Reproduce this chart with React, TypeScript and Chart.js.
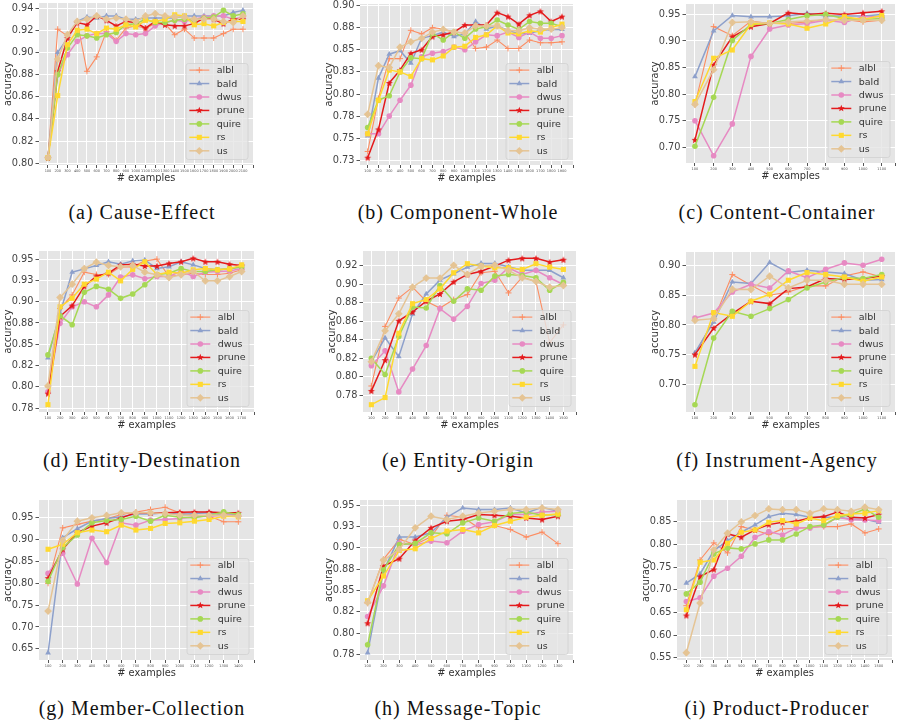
import React, { useEffect, useRef } from "react";
import { Chart, registerables } from "chart.js";

Chart.register(...registerables);

const METHODS = ["albl", "bald", "dwus", "prune", "quire", "rs", "us"];
const METHOD_COLORS = ["#fc8d62", "#8da0cb", "#e78ac3", "#e41a1c", "#a6d854", "#ffd92f", "#e5c494"];
const MARKER_STYLES = ["cross", "triangle", "circle", "star", "circle", "rect", "rectRot"];
const MARKER_RADII = [3, 3.3, 2.8, 3.6, 2.8, 3.6, 3.9];
const LINE_WIDTHS = [1.1, 1.5, 1.5, 1.5, 1.5, 1.5, 1.5];

const EXAMPLES = [100, 200, 300, 400, 500, 600, 700, 800, 900, 1000, 1100, 1200, 1300, 1400, 1500, 1600, 1700, 1800, 1900, 2000, 2100];

// (a) Cause-Effect
const ceAlbl = [0.805, 0.921, 0.915, 0.928, 0.883, 0.896, 0.919, 0.911, 0.922, 0.924, 0.922, 0.926, 0.926, 0.916, 0.921, 0.913, 0.913, 0.913, 0.917, 0.921, 0.921];
const ceBald = [0.805, 0.900, 0.913, 0.928, 0.932, 0.931, 0.933, 0.933, 0.930, 0.930, 0.931, 0.931, 0.931, 0.931, 0.933, 0.933, 0.933, 0.933, 0.933, 0.936, 0.938];
const ceDwus = [0.805, 0.880, 0.898, 0.910, 0.915, 0.917, 0.917, 0.910, 0.917, 0.916, 0.917, 0.924, 0.927, 0.929, 0.928, 0.930, 0.932, 0.933, 0.933, 0.930, 0.932];
const cePrune = [0.805, 0.883, 0.913, 0.927, 0.925, 0.933, 0.929, 0.924, 0.928, 0.927, 0.922, 0.928, 0.925, 0.924, 0.924, 0.926, 0.931, 0.930, 0.926, 0.930, 0.930];
const ceQuire = [0.805, 0.880, 0.904, 0.916, 0.915, 0.913, 0.916, 0.918, 0.925, 0.926, 0.930, 0.927, 0.927, 0.929, 0.930, 0.929, 0.931, 0.932, 0.938, 0.933, 0.935];
const ceRs = [0.805, 0.861, 0.907, 0.920, 0.921, 0.917, 0.922, 0.921, 0.925, 0.923, 0.929, 0.928, 0.930, 0.934, 0.933, 0.925, 0.926, 0.924, 0.927, 0.928, 0.928];
const ceUs = [0.805, 0.894, 0.916, 0.928, 0.930, 0.933, 0.930, 0.931, 0.930, 0.928, 0.933, 0.935, 0.933, 0.932, 0.932, 0.930, 0.930, 0.930, 0.928, 0.927, 0.933];
const ceYTicks = [0.80, 0.82, 0.84, 0.86, 0.88, 0.90, 0.92, 0.94];
const ceYLabels = ["0.80", "0.82", "0.84", "0.86", "0.88", "0.90", "0.92", "0.94"];

// (b) Component-Whole
const cwAlbl = [0.735, 0.795, 0.840, 0.840, 0.872, 0.868, 0.875, 0.8735, 0.870, 0.869, 0.8515, 0.853, 0.861, 0.8515, 0.8515, 0.861, 0.858, 0.858, 0.859];
const cwBald = [0.7526, 0.818, 0.845, 0.849, 0.835, 0.863, 0.866, 0.870, 0.865, 0.868, 0.882, 0.8735, 0.877, 0.872, 0.868, 0.8685, 0.872, 0.873, 0.873];
const cwDwus = [0.755, 0.755, 0.775, 0.793, 0.810, 0.842, 0.846, 0.848, 0.853, 0.850, 0.859, 0.867, 0.866, 0.870, 0.864, 0.870, 0.863, 0.863, 0.866];
const cwPrune = [0.728, 0.760, 0.8125, 0.827, 0.846, 0.850, 0.865, 0.867, 0.870, 0.878, 0.878, 0.878, 0.892, 0.8875, 0.879, 0.889, 0.8935, 0.882, 0.8875];
const cwQuire = [0.762, 0.793, 0.798, 0.825, 0.841, 0.840, 0.8685, 0.861, 0.870, 0.863, 0.8735, 0.876, 0.8837, 0.878, 0.873, 0.882, 0.880, 0.880, 0.876];
const cwRs = [0.755, 0.793, 0.827, 0.825, 0.820, 0.840, 0.8386, 0.843, 0.853, 0.854, 0.864, 0.867, 0.877, 0.869, 0.868, 0.8716, 0.870, 0.875, 0.879];
const cwUs = [0.777, 0.832, 0.830, 0.853, 0.859, 0.863, 0.870, 0.873, 0.870, 0.869, 0.877, 0.877, 0.877, 0.8716, 0.8716, 0.875, 0.8735, 0.8735, 0.875];
const cwYTicks = [0.725, 0.75, 0.775, 0.80, 0.825, 0.85, 0.875, 0.90];
const cwYLabels = ["0.73", "0.75", "0.78", "0.80", "0.83", "0.85", "0.88", "0.90"];

// (c) Content-Container
const ccAlbl = [0.780, 0.927, 0.910, 0.9375, 0.933, 0.933, 0.936, 0.9405, 0.9405, 0.936, 0.939];
const ccBald = [0.833, 0.919, 0.948, 0.9456, 0.9456, 0.9475, 0.952, 0.947, 0.947, 0.947, 0.950];
const ccDwus = [0.750, 0.684, 0.744, 0.871, 0.9225, 0.930, 0.933, 0.939, 0.935, 0.9456, 0.9456];
const ccPrune = [0.714, 0.855, 0.908, 0.927, 0.933, 0.953, 0.950, 0.952, 0.950, 0.953, 0.956];
const ccQuire = [0.702, 0.794, 0.901, 0.931, 0.933, 0.9405, 0.9475, 0.950, 0.9425, 0.9405, 0.9425];
const ccRs = [0.786, 0.8675, 0.883, 0.932, 0.934, 0.932, 0.924, 0.932, 0.9456, 0.9405, 0.948];
const ccUs = [0.781, 0.846, 0.935, 0.936, 0.933, 0.936, 0.9375, 0.9405, 0.939, 0.939, 0.939];
const ccYTicks = [0.70, 0.75, 0.80, 0.85, 0.90, 0.95];
const ccYLabels = ["0.70", "0.75", "0.80", "0.85", "0.90", "0.95"];

// (d) Entity-Destination
const edAlbl = [0.800, 0.892, 0.908, 0.9347, 0.932, 0.932, 0.941, 0.941, 0.948, 0.950, 0.9296, 0.9316, 0.9335, 0.932, 0.932, 0.9335, 0.9375];
const edBald = [0.834, 0.8865, 0.9347, 0.9386, 0.9426, 0.947, 0.944, 0.948, 0.949, 0.939, 0.941, 0.947, 0.9433, 0.939, 0.9375, 0.9386, 0.941];
const edDwus = [0.794, 0.8747, 0.894, 0.900, 0.894, 0.908, 0.929, 0.9316, 0.927, 0.9296, 0.9296, 0.936, 0.9296, 0.9347, 0.9355, 0.936, 0.939];
const edPrune = [0.792, 0.8826, 0.8955, 0.918, 0.930, 0.9335, 0.9433, 0.944, 0.942, 0.942, 0.945, 0.947, 0.951, 0.947, 0.947, 0.944, 0.9426];
const edQuire = [0.8375, 0.8834, 0.873, 0.911, 0.918, 0.9147, 0.904, 0.909, 0.920, 0.932, 0.9335, 0.939, 0.9355, 0.9355, 0.9375, 0.9386, 0.941];
const edRs = [0.779, 0.894, 0.904, 0.9206, 0.9265, 0.9347, 0.9245, 0.938, 0.947, 0.932, 0.9347, 0.9335, 0.9375, 0.939, 0.9375, 0.9386, 0.9433];
const edUs = [0.801, 0.905, 0.9206, 0.939, 0.9465, 0.9426, 0.941, 0.9426, 0.9347, 0.9316, 0.9284, 0.9316, 0.9355, 0.9245, 0.9245, 0.9296, 0.9355];
const edYTicks = [0.775, 0.80, 0.825, 0.85, 0.875, 0.90, 0.925, 0.95];
const edYLabels = ["0.78", "0.80", "0.82", "0.85", "0.88", "0.90", "0.93", "0.95"];

// (e) Entity-Origin
const eoAlbl = [0.790, 0.8544, 0.885, 0.8968, 0.8816, 0.8743, 0.8834, 0.8888, 0.9124, 0.914, 0.8906, 0.9077, 0.903, 0.837, 0.856];
const eoBald = [0.8163, 0.842, 0.8217, 0.8678, 0.8895, 0.9044, 0.9113, 0.9185, 0.9225, 0.9225, 0.9189, 0.915, 0.915, 0.915, 0.907];
const eoDwus = [0.812, 0.828, 0.7836, 0.8083, 0.8337, 0.8736, 0.8623, 0.8761, 0.9008, 0.9044, 0.9178, 0.9106, 0.915, 0.907, 0.8997];
const eoPrune = [0.7847, 0.818, 0.8605, 0.870, 0.8816, 0.8895, 0.9026, 0.9106, 0.914, 0.9196, 0.926, 0.928, 0.928, 0.924, 0.9265];
const eoQuire = [0.820, 0.8025, 0.8435, 0.8754, 0.8743, 0.8986, 0.8816, 0.895, 0.8935, 0.9088, 0.9106, 0.9095, 0.907, 0.8935, 0.902];
const eoRs = [0.7698, 0.7775, 0.847, 0.879, 0.8834, 0.895, 0.9124, 0.9222, 0.9196, 0.9178, 0.9178, 0.916, 0.9222, 0.9185, 0.916];
const eoUs = [0.8163, 0.8496, 0.868, 0.8968, 0.9066, 0.9066, 0.9204, 0.9106, 0.9196, 0.9207, 0.915, 0.907, 0.903, 0.8968, 0.8986];
const eoYTicks = [0.78, 0.80, 0.82, 0.84, 0.86, 0.88, 0.90, 0.92];
const eoYLabels = ["0.78", "0.80", "0.82", "0.84", "0.86", "0.88", "0.90", "0.92"];

// (f) Instrument-Agency
const iaAlbl = [0.752, 0.808, 0.8844, 0.8665, 0.8497, 0.8553, 0.8654, 0.8654, 0.8821, 0.8888, 0.8804];
const iaBald = [0.7536, 0.805, 0.872, 0.8693, 0.9045, 0.8877, 0.8916, 0.8888, 0.886, 0.8749, 0.876];
const iaDwus = [0.8117, 0.820, 0.8553, 0.8682, 0.862, 0.8905, 0.8793, 0.8933, 0.9039, 0.900, 0.910];
const iaPrune = [0.7503, 0.795, 0.819, 0.8397, 0.8358, 0.8609, 0.8637, 0.8777, 0.876, 0.8777, 0.8821];
const iaQuire = [0.6665, 0.7782, 0.8229, 0.8145, 0.8274, 0.8425, 0.862, 0.872, 0.8793, 0.8777, 0.8844];
const iaRs = [0.7307, 0.8207, 0.8145, 0.8397, 0.8514, 0.8749, 0.8877, 0.8844, 0.8804, 0.8732, 0.8804];
const iaUs = [0.8078, 0.8106, 0.8598, 0.8592, 0.8816, 0.862, 0.8749, 0.8749, 0.8682, 0.8682, 0.8682];
const iaYTicks = [0.70, 0.75, 0.80, 0.85, 0.90];
const iaYLabels = ["0.70", "0.75", "0.80", "0.85", "0.90"];

// (g) Member-Collection
const mcAlbl = [0.800, 0.927, 0.935, 0.9424, 0.9477, 0.9576, 0.963, 0.969, 0.9742, 0.9614, 0.956, 0.9538, 0.9409, 0.9409];
const mcBald = [0.641, 0.9045, 0.925, 0.9424, 0.9485, 0.9523, 0.959, 0.959, 0.9614, 0.9576, 0.960, 0.9614, 0.956, 0.9576];
const mcDwus = [0.8227, 0.869, 0.7985, 0.903, 0.8477, 0.9386, 0.9333, 0.9447, 0.9462, 0.9485, 0.9523, 0.9538, 0.956, 0.956];
const mcPrune = [0.812, 0.878, 0.9159, 0.931, 0.9386, 0.950, 0.9614, 0.9614, 0.9614, 0.963, 0.9636, 0.9636, 0.9614, 0.9614];
const mcQuire = [0.8045, 0.8818, 0.9106, 0.9386, 0.944, 0.9462, 0.9538, 0.9424, 0.956, 0.9515, 0.950, 0.956, 0.9636, 0.9576];
const mcRs = [0.878, 0.8894, 0.9159, 0.922, 0.9182, 0.9333, 0.922, 0.9258, 0.9371, 0.9386, 0.9424, 0.9462, 0.9538, 0.9523];
const mcUs = [0.7364, 0.8985, 0.9424, 0.950, 0.9553, 0.9614, 0.9614, 0.9614, 0.960, 0.956, 0.956, 0.956, 0.956, 0.9538];
const mcYTicks = [0.65, 0.70, 0.75, 0.80, 0.85, 0.90, 0.95];
const mcYLabels = ["0.65", "0.70", "0.75", "0.80", "0.85", "0.90", "0.95"];

// (h) Message-Topic
const mtAlbl = [0.835, 0.8866, 0.910, 0.904, 0.913, 0.9383, 0.936, 0.9236, 0.9263, 0.9216, 0.9127, 0.9185, 0.905];
const mtBald = [0.777, 0.873, 0.9127, 0.9127, 0.9177, 0.936, 0.9469, 0.945, 0.945, 0.9469, 0.9411, 0.9477, 0.943];
const mtDwus = [0.8194, 0.8555, 0.9053, 0.9033, 0.908, 0.906, 0.9197, 0.9274, 0.9306, 0.9391, 0.9391, 0.9422, 0.943];
const mtPrune = [0.8116, 0.8788, 0.8874, 0.9088, 0.9236, 0.9313, 0.9333, 0.9391, 0.9383, 0.9372, 0.9352, 0.9333, 0.9372];
const mtQuire = [0.7863, 0.8742, 0.904, 0.9053, 0.9177, 0.9166, 0.9294, 0.9352, 0.9313, 0.9403, 0.9422, 0.9383, 0.9391];
const mtRs = [0.838, 0.867, 0.897, 0.899, 0.911, 0.9197, 0.9216, 0.9177, 0.9263, 0.9313, 0.936, 0.9383, 0.9399];
const mtUs = [0.836, 0.8855, 0.8983, 0.9236, 0.9372, 0.9333, 0.9372, 0.9411, 0.943, 0.945, 0.945, 0.9469, 0.945];
const mtYTicks = [0.775, 0.80, 0.825, 0.85, 0.875, 0.90, 0.925, 0.95];
const mtYLabels = ["0.78", "0.80", "0.82", "0.85", "0.88", "0.90", "0.93", "0.95"];

// (i) Product-Producer
const ppAlbl = [0.665, 0.766, 0.8037, 0.7816, 0.8397, 0.8324, 0.822, 0.8346, 0.836, 0.8382, 0.8397, 0.8397, 0.8456, 0.8257, 0.8346];
const ppBald = [0.7148, 0.7353, 0.7868, 0.8088, 0.8272, 0.8434, 0.8618, 0.8691, 0.8662, 0.8603, 0.8603, 0.8603, 0.8566, 0.8551, 0.8493];
const ppDwus = [0.6743, 0.6824, 0.7302, 0.7478, 0.7743, 0.8162, 0.8287, 0.8213, 0.8368, 0.8368, 0.8419, 0.8603, 0.8551, 0.8544, 0.8529];
const ppPrune = [0.6434, 0.7294, 0.745, 0.8235, 0.8162, 0.8324, 0.8441, 0.8493, 0.8515, 0.8588, 0.8618, 0.872, 0.8603, 0.8588, 0.8662];
const ppQuire = [0.691, 0.717, 0.7794, 0.7927, 0.7905, 0.8015, 0.8103, 0.8103, 0.8235, 0.8397, 0.8434, 0.8603, 0.8662, 0.8787, 0.8603];
const ppRs = [0.656, 0.761, 0.766, 0.803, 0.8272, 0.8324, 0.8493, 0.8529, 0.8456, 0.8588, 0.8529, 0.864, 0.8676, 0.8691, 0.875];
const ppUs = [0.5611, 0.6707, 0.7883, 0.825, 0.850, 0.864, 0.8787, 0.8772, 0.8772, 0.8691, 0.8787, 0.8772, 0.8735, 0.8824, 0.8772];
const ppYTicks = [0.55, 0.60, 0.65, 0.70, 0.75, 0.80, 0.85];
const ppYLabels = ["0.55", "0.60", "0.65", "0.70", "0.75", "0.80", "0.85"];

type PanelDef = {
  caption: string;
  series: number[][];
  yTicks: number[];
  yLabels: string[];
  xMin: number;
  xMax: number;
  rect: [number, number, number, number];
  cap: [number, number];
};

const PANELS: PanelDef[] = [
  { caption: "(a) Cause-Effect", series: [ceAlbl, ceBald, ceDwus, cePrune, ceQuire, ceRs, ceUs], yTicks: ceYTicks, yLabels: ceYLabels, xMin: 8, xMax: 2203, rect: [39, 3, 214, 162], cap: [142, 219] },
  { caption: "(b) Component-Whole", series: [cwAlbl, cwBald, cwDwus, cwPrune, cwQuire, cwRs, cwUs], yTicks: cwYTicks, yLabels: cwYLabels, xMin: 29, xMax: 2002, rect: [360, 4, 213, 161], cap: [458, 219] },
  { caption: "(c) Content-Container", series: [ccAlbl, ccBald, ccDwus, ccPrune, ccQuire, ccRs, ccUs], yTicks: ccYTicks, yLabels: ccYLabels, xMin: 52, xMax: 1171, rect: [686, 4, 209, 159], cap: [777, 219] },
  { caption: "(d) Entity-Destination", series: [edAlbl, edBald, edDwus, edPrune, edQuire, edRs, edUs], yTicks: edYTicks, yLabels: edYLabels, xMin: 26, xMax: 1802, rect: [39, 251, 215, 161], cap: [142, 467] },
  { caption: "(e) Entity-Origin", series: [eoAlbl, eoBald, eoDwus, eoPrune, eoQuire, eoRs, eoUs], yTicks: eoYTicks, yLabels: eoYLabels, xMin: 39, xMax: 1592, rect: [363, 251, 213, 161], cap: [458, 467] },
  { caption: "(f) Instrument-Agency", series: [iaAlbl, iaBald, iaDwus, iaPrune, iaQuire, iaRs, iaUs], yTicks: iaYTicks, yLabels: iaYLabels, xMin: 52, xMax: 1171, rect: [686, 252, 209, 160], cap: [777, 467] },
  { caption: "(g) Member-Collection", series: [mcAlbl, mcBald, mcDwus, mcPrune, mcQuire, mcRs, mcUs], yTicks: mcYTicks, yLabels: mcYLabels, xMin: 38, xMax: 1507, rect: [39, 500, 215, 160], cap: [142, 715] },
  { caption: "(h) Message-Topic", series: [mtAlbl, mtBald, mtDwus, mtPrune, mtQuire, mtRs, mtUs], yTicks: mtYTicks, yLabels: mtYLabels, xMin: 52, xMax: 1395, rect: [360, 500, 213, 160], cap: [458, 715] },
  { caption: "(i) Product-Producer", series: [ppAlbl, ppBald, ppDwus, ppPrune, ppQuire, ppRs, ppUs], yTicks: ppYTicks, yLabels: ppYLabels, xMin: 32, xMax: 1597, rect: [677, 500, 215, 160], cap: [777, 715] },
];

const L = 38;
const T = 10;
const R = 6;
const B = 22;
const SANS = "'DejaVu Sans', sans-serif";

function starPath(ctx: CanvasRenderingContext2D, x: number, y: number, r: number) {
  ctx.beginPath();
  for (let k = 0; k < 10; k++) {
    const rr = k % 2 === 0 ? r : r * 0.45;
    const a = -Math.PI / 2 + (k * Math.PI) / 5;
    const px = x + rr * Math.cos(a);
    const py = y + rr * Math.sin(a);
    if (k === 0) ctx.moveTo(px, py);
    else ctx.lineTo(px, py);
  }
  ctx.closePath();
}

function drawMarker(ctx: CanvasRenderingContext2D, style: string, x: number, y: number, r: number, color: string) {
  ctx.save();
  ctx.fillStyle = color;
  ctx.strokeStyle = color;
  ctx.lineWidth = 1;
  ctx.beginPath();
  if (style === "cross") {
    ctx.moveTo(x - r, y);
    ctx.lineTo(x + r, y);
    ctx.moveTo(x, y - r);
    ctx.lineTo(x, y + r);
    ctx.stroke();
  } else if (style === "triangle") {
    ctx.moveTo(x, y - r);
    ctx.lineTo(x + r * 0.866, y + r * 0.5);
    ctx.lineTo(x - r * 0.866, y + r * 0.5);
    ctx.closePath();
    ctx.fill();
  } else if (style === "circle") {
    ctx.arc(x, y, r, 0, Math.PI * 2);
    ctx.fill();
  } else if (style === "rect") {
    const s = r * Math.SQRT1_2;
    ctx.rect(x - s, y - s, 2 * s, 2 * s);
    ctx.fill();
  } else if (style === "rectRot") {
    ctx.moveTo(x, y - r);
    ctx.lineTo(x + r, y);
    ctx.lineTo(x, y + r);
    ctx.lineTo(x - r, y);
    ctx.closePath();
    ctx.fill();
  } else if (style === "star") {
    starPath(ctx, x, y, r);
    ctx.fill();
  }
  ctx.restore();
}

let starCanvas: HTMLCanvasElement | null = null;
function getStarCanvas(color: string, r: number) {
  if (starCanvas) return starCanvas;
  const size = Math.ceil(2 * r + 2);
  const c = document.createElement("canvas");
  c.width = size;
  c.height = size;
  const ctx = c.getContext("2d")!;
  ctx.fillStyle = color;
  starPath(ctx, size / 2, size / 2 + 0.3, r);
  ctx.fill();
  starCanvas = c;
  return c;
}

const ggPlugin = {
  id: "ggstyle",
  beforeDraw(chart: any) {
    const { ctx, chartArea: a } = chart;
    ctx.save();
    ctx.fillStyle = "#e5e5e5";
    ctx.fillRect(a.left, a.top, a.right - a.left, a.bottom - a.top);
    ctx.restore();
  },
  afterDraw(chart: any) {
    const { ctx, chartArea: a } = chart;
    const w = 62;
    const h = 96;
    const x0 = a.right - 5 - w;
    const y0 = a.bottom - 5.5 - h;
    ctx.save();
    ctx.beginPath();
    const rad = 2.5;
    ctx.moveTo(x0 + rad, y0);
    ctx.lineTo(x0 + w - rad, y0);
    ctx.arcTo(x0 + w, y0, x0 + w, y0 + rad, rad);
    ctx.lineTo(x0 + w, y0 + h - rad);
    ctx.arcTo(x0 + w, y0 + h, x0 + w - rad, y0 + h, rad);
    ctx.lineTo(x0 + rad, y0 + h);
    ctx.arcTo(x0, y0 + h, x0, y0 + h - rad, rad);
    ctx.lineTo(x0, y0 + rad);
    ctx.arcTo(x0, y0, x0 + rad, y0, rad);
    ctx.closePath();
    ctx.fillStyle = "rgba(229,229,229,0.8)";
    ctx.fill();
    ctx.strokeStyle = "#d0d0d0";
    ctx.lineWidth = 0.8;
    ctx.stroke();
    ctx.font = "9.5px " + SANS;
    ctx.textBaseline = "middle";
    ctx.textAlign = "left";
    METHODS.forEach((m, i) => {
      const cy = y0 + 6.6 + i * 13.45;
      ctx.strokeStyle = METHOD_COLORS[i];
      ctx.lineWidth = LINE_WIDTHS[i];
      ctx.beginPath();
      ctx.moveTo(x0 + 3.3, cy);
      ctx.lineTo(x0 + 23.3, cy);
      ctx.stroke();
      drawMarker(ctx, MARKER_STYLES[i], x0 + 13.3, cy, MARKER_RADII[i], METHOD_COLORS[i]);
      ctx.fillStyle = "#333333";
      ctx.fillText(m, x0 + 30.7, cy + 0.5);
    });
    ctx.restore();
  },
};

function Panel({ p }: { p: PanelDef }) {
  const ref = useRef<HTMLCanvasElement>(null);
  const [rx, ry, rw, rh] = p.rect;
  const cw = rw + L + R;
  const ch = rh + T + B;

  useEffect(() => {
    const n = p.series[0].length;
    const xs = EXAMPLES.slice(0, n);
    const all = p.series.flat();
    const dMin = Math.min(...all);
    const dMax = Math.max(...all);
    const pad = (dMax - dMin) * 0.05;
    const yMin = dMin - pad;
    const yMax = dMax + pad;

    const datasets = p.series.map((vals, i) => {
      const style: any = MARKER_STYLES[i] === "star" ? getStarCanvas(METHOD_COLORS[i], MARKER_RADII[i]) : MARKER_STYLES[i];
      return {
        label: METHODS[i],
        data: xs.map((x, j) => ({ x, y: vals[j] })),
        borderColor: METHOD_COLORS[i],
        backgroundColor: METHOD_COLORS[i],
        borderWidth: LINE_WIDTHS[i],
        pointStyle: style,
        pointRadius: MARKER_RADII[i],
        pointBackgroundColor: METHOD_COLORS[i],
        pointBorderColor: METHOD_COLORS[i],
        pointBorderWidth: MARKER_STYLES[i] === "cross" ? 1 : 0,
        tension: 0,
        order: METHODS.length - 1 - i,
      };
    });

    const chart = new Chart(ref.current!, {
      type: "line",
      data: { datasets },
      plugins: [ggPlugin],
      options: {
        animation: false,
        responsive: false,
        events: [],
        layout: { padding: { left: 0, top: T, right: R, bottom: 0 } },
        plugins: { legend: { display: false }, tooltip: { enabled: false } },
        scales: {
          x: {
            type: "linear",
            min: p.xMin,
            max: p.xMax,
            afterBuildTicks: (s: any) => {
              s.ticks = [...xs, p.xMax].map((v) => ({ value: v }));
            },
            afterFit: (s: any) => {
              s.height = B;
            },
            ticks: {
              autoSkip: false,
              maxRotation: 0,
              minRotation: 0,
              padding: 1,
              color: "#555555",
              font: { size: 3.5, family: SANS },
              callback: (v: any) => (xs.includes(v) ? String(v) : ""),
            },
            grid: { color: "#ffffff", lineWidth: 1, tickColor: "#555555", tickLength: 3, drawTicks: true },
            border: { display: false },
            title: {
              display: true,
              text: "# examples",
              color: "#333333",
              font: { size: 9.8, family: SANS },
              padding: { top: 0, bottom: 2.3 },
            },
          },
          y: {
            type: "linear",
            min: yMin,
            max: yMax,
            afterBuildTicks: (s: any) => {
              s.ticks = p.yTicks.filter((v) => v >= yMin && v <= yMax).map((v) => ({ value: v }));
            },
            afterFit: (s: any) => {
              s.width = L;
            },
            ticks: {
              autoSkip: false,
              padding: 2,
              color: "#444444",
              font: { size: 9.8, family: SANS },
              callback: (v: any) => {
                const k = p.yTicks.indexOf(v);
                return k >= 0 ? p.yLabels[k] : "";
              },
            },
            grid: { color: "#ffffff", lineWidth: 1, tickColor: "#555555", tickLength: 3.5, drawTicks: true },
            border: { display: false },
            title: {
              display: true,
              text: "accuracy",
              color: "#333333",
              font: { size: 9.8, family: SANS },
              padding: { top: 1.6, bottom: 0 },
            },
          },
        },
      } as any,
    });
    return () => chart.destroy();
  }, []);

  return (
    <canvas
      ref={ref}
      width={cw}
      height={ch}
      style={{ position: "absolute", left: rx - L, top: ry - T, width: cw, height: ch }}
    />
  );
}

export default function App() {
  return (
    <div
      style={{
        position: "fixed",
        left: 0,
        top: 0,
        width: 901,
        height: 723,
        overflow: "hidden",
        background: "#ffffff",
      }}
    >
      {PANELS.map((p, i) => (
        <Panel key={i} p={p} />
      ))}
      {PANELS.map((p, i) => (
        <div
          key={"c" + i}
          style={{
            position: "absolute",
            left: p.cap[0] - 200,
            top: p.cap[1] - 16.75,
            width: 400,
            textAlign: "center",
            fontFamily: "'Liberation Serif', serif",
            fontSize: 20,
            lineHeight: "20px",
            letterSpacing: "1px",
            color: "#111111",
            whiteSpace: "nowrap",
          }}
        >
          {p.caption}
        </div>
      ))}
    </div>
  );
}
